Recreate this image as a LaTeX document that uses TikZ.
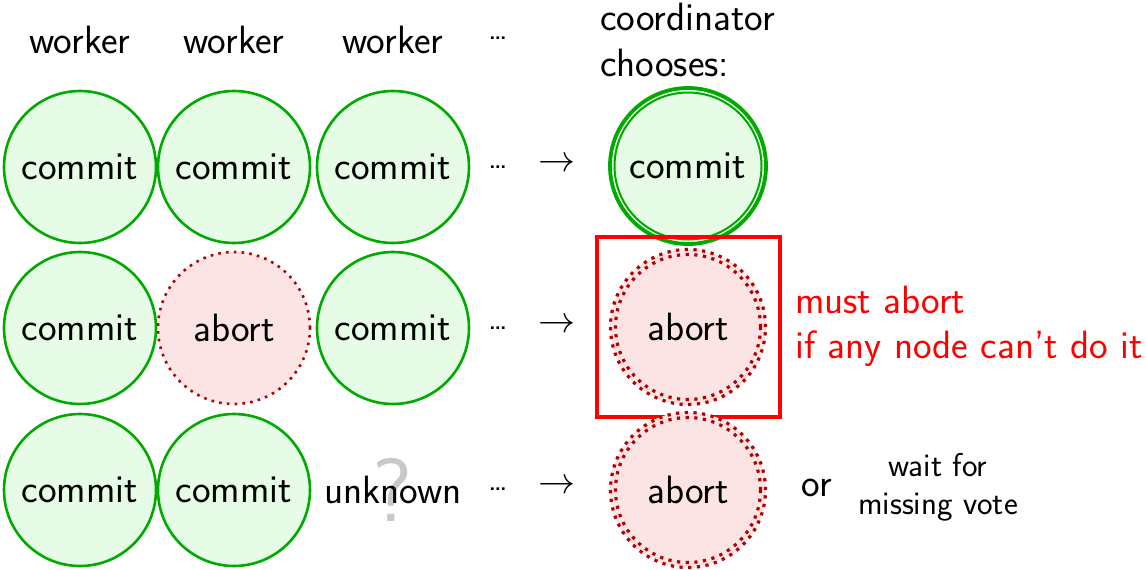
\documentclass[tikz,border=0pt]{standalone}
\usepackage{fontspec}
\begin{document}
\begin{tikzpicture}[x=1pt,y=-1pt,
  every node/.style={font=\sffamily\fontsize{39.5}{46}\selectfont, inner sep=0pt},
  yes/.style={circle, minimum size=152pt, draw=vgreen, line width=2.6pt, fill=vgreenfill},
  no/.style={circle, minimum size=152pt, draw=vdarkred, line width=2.6pt, fill=vpink,
    dash pattern=on 2.6pt off 5.2pt},
  dotsym/.style={font=\sffamily\fontsize{33}{33}\selectfont},
  arrowsym/.style={font=\fontsize{10}{10}\selectfont, scale=3.7},
  small/.style={font=\sffamily\fontsize{33}{38}\selectfont, align=center},
]
\definecolor{vgreen}{RGB}{0,170,0}
\definecolor{vgreenfill}{RGB}{230,252,230}
\definecolor{vdarkred}{RGB}{180,0,0}
\definecolor{vpink}{RGB}{253,228,228}
\definecolor{vred}{RGB}{255,0,0}
\definecolor{vgray}{RGB}{200,200,200}

\useasboundingbox (0,0) rectangle (1146,570);

% column headings
\node (h1) at (80,40) {worker};
\node (h2) at (234,40) {worker};
\node (h3) at (393,40) {worker};
\node[dotsym, anchor=base] (hd) at (498,39) {\ldots};
\node[anchor=west, align=left] (hc) at (600,40) {coordinator\\chooses:};

% row 1: all votes commit
\node[yes] (a1) at (80,167) {commit};
\node[yes] (a2) at (234,167) {commit};
\node[yes] (a3) at (393,167) {commit};
\node[dotsym, anchor=base] (ad) at (498,168) {\ldots};
\node[arrowsym] (aar) at (557,165) {$\rightarrow$};
\node[circle, minimum size=156pt, fill=vgreenfill] (ac) at (688,166) {commit};
\draw[vgreen, line width=3.8pt] (ac.center) circle[radius=78pt];
\draw[vgreen, line width=2pt] (ac.center) circle[radius=73.5pt];

% row 2: one vote aborts
\node[yes] (b1) at (80,328) {commit};
\node[no] (b2) at (234,328) {abort};
\node[yes] (b3) at (393,328) {commit};
\node[dotsym, anchor=base] (bd) at (498,329) {\ldots};
\node[arrowsym] (bar) at (557,326) {$\rightarrow$};
\node[circle, minimum size=156pt, fill=vpink] (bc) at (688,327) {abort};
\draw[vdarkred, line width=3.2pt, dash pattern=on 3.2pt off 5.5pt] (bc.center) circle[radius=77.5pt];
\draw[vdarkred, line width=3.2pt, dash pattern=on 3.2pt off 5.5pt] (bc.center) circle[radius=72.5pt];
\draw[vred, line width=3.6pt] (597,237) rectangle (780,417);
\node[anchor=west, align=left, text=vred, font=\sffamily\fontsize{39.5}{45}\selectfont] (bn) at (795,326)
  {must abort\\if any node can't do it};

% row 3: one vote missing
\node[yes] (c1) at (80,490) {commit};
\node[yes] (c2) at (234,490) {commit};
\node[text=vgray, font=\sffamily\fontsize{90}{90}\selectfont] (cq) at (392,490) {?};
\node (c3) at (393,490) {unknown};
\node[dotsym, anchor=base] (cd) at (498,490) {\ldots};
\node[arrowsym] (car) at (557,487) {$\rightarrow$};
\node[circle, minimum size=156pt, fill=vpink] (cc) at (688,490) {abort};
\draw[vdarkred, line width=3.2pt, dash pattern=on 3.2pt off 5.5pt] (cc.center) circle[radius=77.5pt];
\draw[vdarkred, line width=3.2pt, dash pattern=on 3.2pt off 5.5pt] (cc.center) circle[radius=72.5pt];
\node (cor) at (817,488) {or};
\node[small] (cw) at (938,487) {wait for\\missing vote};
\end{tikzpicture}
\end{document}
